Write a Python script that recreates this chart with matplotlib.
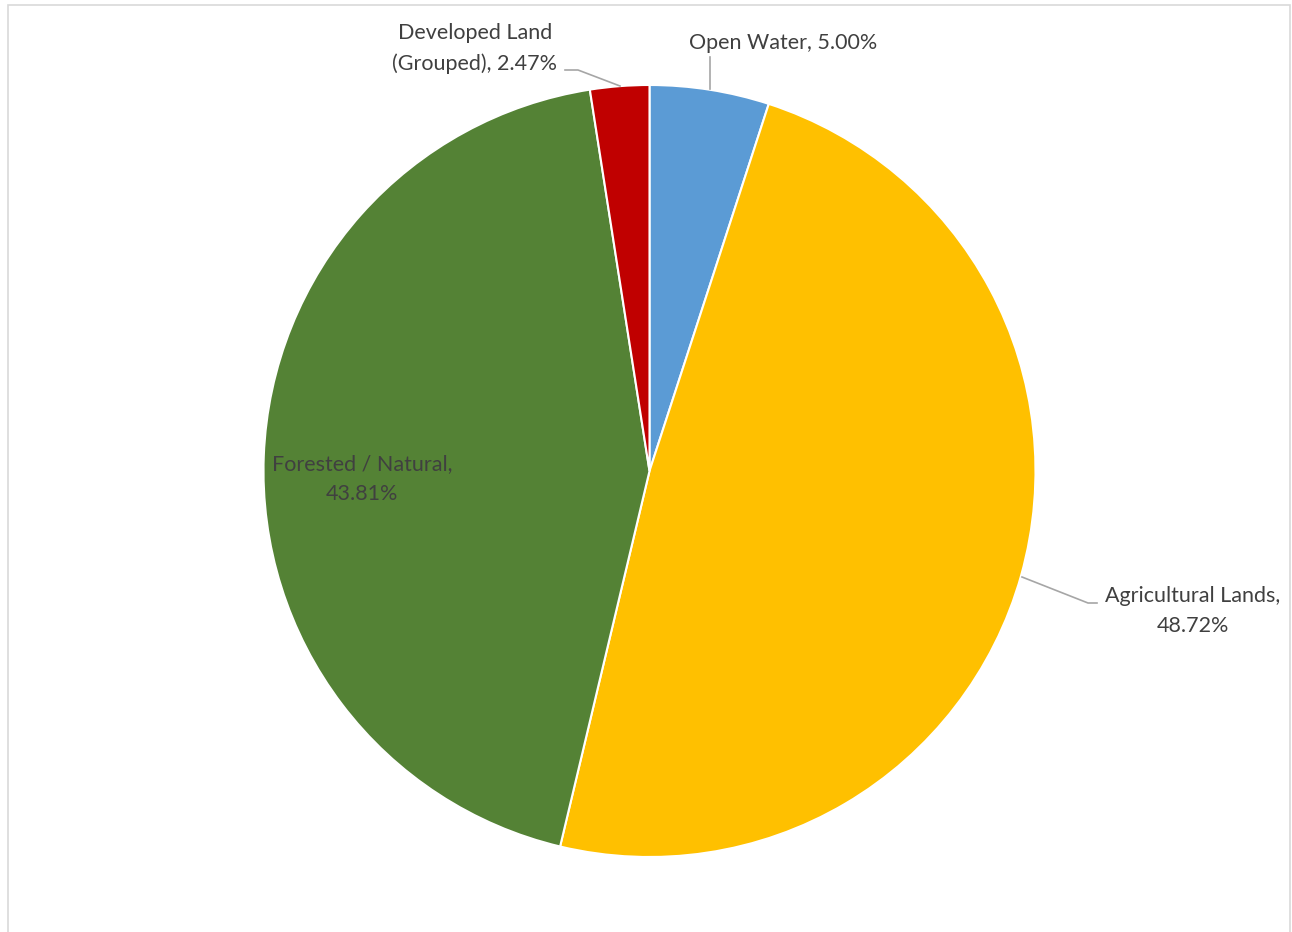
import matplotlib.pyplot as plt
from matplotlib.patches import Rectangle

labels = ['Open Water', 'Agricultural Lands', 'Forested / Natural', 'Developed Land (Grouped)']
shares = [5.00, 48.72, 43.81, 2.47]
colors = ['#5B9BD5', '#FFC000', '#548235', '#C00000']

W, H = 1292, 932
fig = plt.figure(figsize=(W / 100, H / 100), dpi=100)
ax = fig.add_axes([0, 0, 1, 1])

cx, cy, r = 649.5, H - 471, 386
ax.pie(shares, colors=colors, startangle=90, counterclock=False,
       center=(cx, cy), radius=r,
       wedgeprops=dict(edgecolor='white', linewidth=1.5))
ax.set_xlim(0, W)
ax.set_ylim(0, H)
ax.set_aspect('equal')
ax.axis('off')

# chart frame
ax.add_patch(Rectangle((8, -10), 1282, H - 5 + 10, fill=False,
                       edgecolor='#D9D9D9', linewidth=1.2))

txt = dict(fontsize=15.5, color='#404040', family=['Lato', 'DejaVu Sans'])
lc = '#A6A6A6'

def y(p):
    return H - p

# Open Water
ax.text(783, y(43), f'{labels[0]}, {shares[0]:.2f}%', ha='center', va='center', **txt)
ax.plot([710, 710], [y(57), y(89)], color=lc, lw=1.2)

# Agricultural Lands
ax.text(1193, y(596), 'Agricultural Lands,', ha='center', va='center', **txt)
ax.text(1193, y(626), f'{shares[1]:.2f}%', ha='center', va='center', **txt)
ax.plot([1022, 1088, 1097], [y(577), y(603), y(603)], color=lc, lw=1.2)

# Forested / Natural
ax.text(362, y(464), 'Forested / Natural,', ha='center', va='center', **txt)
ax.text(362, y(494), f'{shares[2]:.2f}%', ha='center', va='center', **txt)

# Developed Land
ax.text(475, y(33), 'Developed Land', ha='center', va='center', **txt)
ax.text(475, y(64), f'(Grouped), {shares[3]:.2f}%', ha='center', va='center', **txt)
ax.plot([565, 578, 620], [y(70), y(70), y(86)], color=lc, lw=1.2)

fig.savefig('out.png', dpi=100, facecolor='white')
